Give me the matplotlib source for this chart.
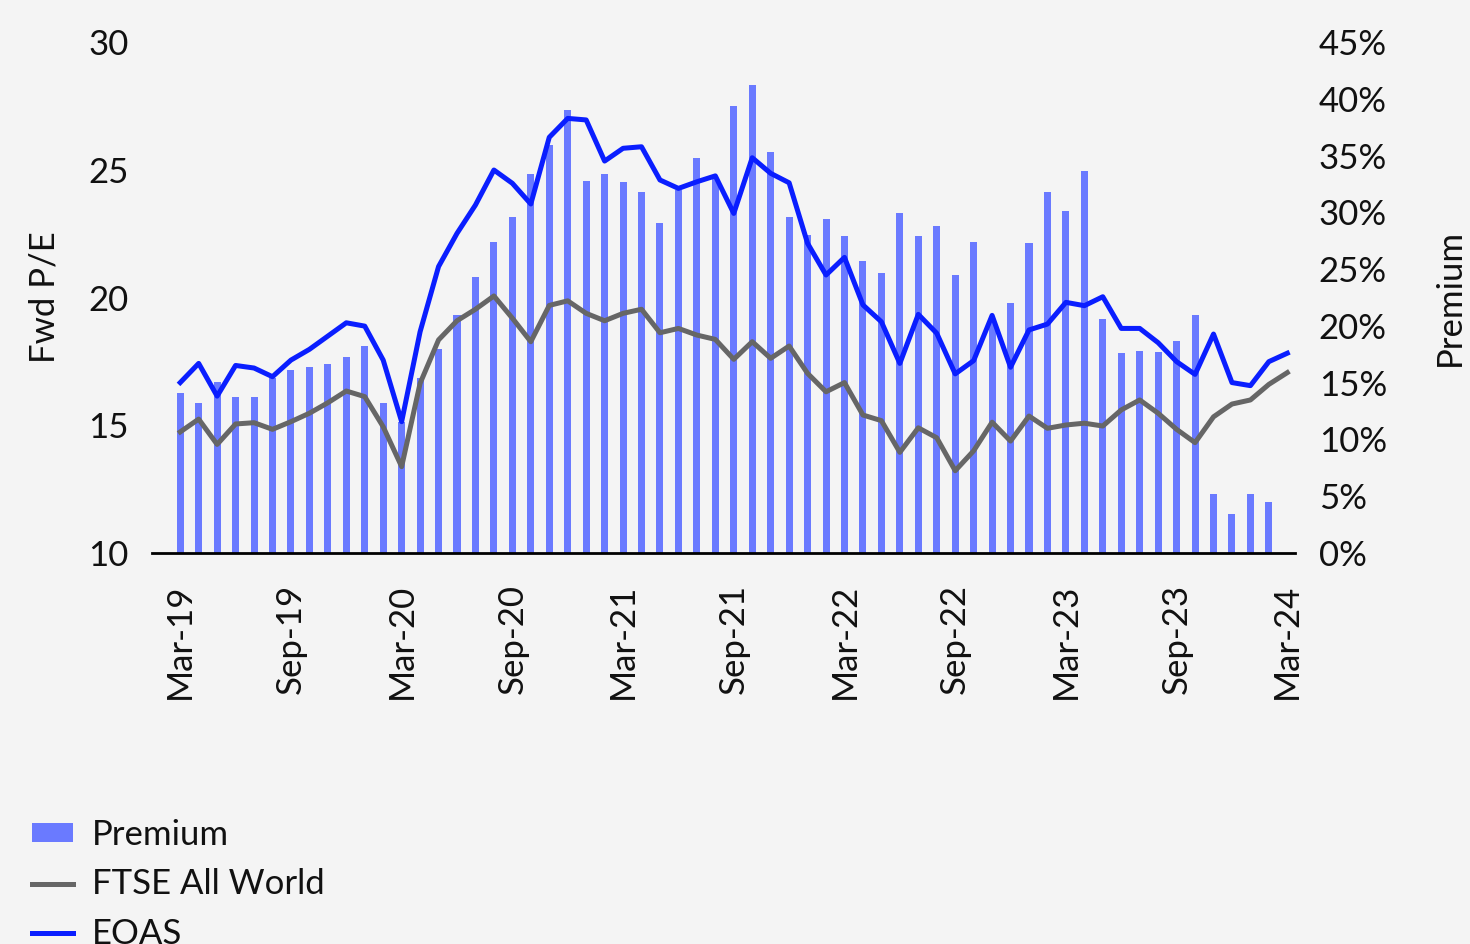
import matplotlib.pyplot as plt
import numpy as np
import pandas as pd

plt.rcParams['font.family'] = ['Lato', 'DejaVu Sans']

# Monthly data, Mar-19 .. Mar-24
months = pd.date_range('2019-03-01', periods=61, freq='MS')
month_labels = [d.strftime('%b-%y') for d in months]

# Premium (%) - no bar for the last month
premium = [14.1, 13.2, 15.1, 13.7, 13.7, 15.4, 16.1, 16.4, 16.6, 17.3,
           18.2, 13.2, 11.5, 15.4, 18.0, 21.0, 24.3, 27.4, 29.6, 33.4,
           35.9, 39.0, 32.8, 33.4, 32.7, 31.8, 29.1, 32.0, 34.8, 33.0,
           39.4, 41.2, 35.3, 29.6, 28.0, 29.4, 27.9, 25.7, 24.7, 29.9,
           27.9, 28.8, 24.5, 27.4, 20.5, 22.0, 27.3, 31.8, 30.1, 33.6,
           20.6, 17.6, 17.8, 17.7, 18.7, 21.0, 5.2, 3.4, 5.2, 4.5]

ftse = [14.74, 15.24, 14.25, 15.05, 15.10, 14.84, 15.14, 15.47, 15.88, 16.34,
        16.12, 14.94, 13.38, 16.64, 18.34, 19.09, 19.54, 20.06, 19.19, 18.27,
        19.69, 19.87, 19.38, 19.09, 19.38, 19.54, 18.62, 18.79, 18.53, 18.36,
        17.58, 18.27, 17.62, 18.10, 17.03, 16.31, 16.67, 15.40, 15.18, 13.94,
        14.90, 14.51, 13.22, 14.00, 15.12, 14.38, 15.36, 14.88, 15.01, 15.08,
        14.97, 15.60, 15.99, 15.47, 14.84, 14.32, 15.33, 15.83, 15.99, 16.60,
        17.06]

eoas = [16.67, 17.42, 16.14, 17.34, 17.24, 16.90, 17.55, 17.97, 18.49, 19.01,
        18.88, 17.55, 15.14, 18.66, 21.21, 22.51, 23.62, 24.99, 24.47, 23.66,
        26.27, 27.01, 26.95, 25.34, 25.84, 25.90, 24.60, 24.27, 24.53, 24.76,
        23.29, 25.47, 24.86, 24.49, 22.12, 20.88, 21.57, 19.71, 19.05, 17.42,
        19.34, 18.60, 17.01, 17.53, 19.30, 17.27, 18.73, 18.96, 19.81, 19.68,
        20.03, 18.79, 18.79, 18.23, 17.49, 16.99, 18.57, 16.67, 16.55, 17.49,
        17.82]

bg = '#f4f4f4'
bar_color = '#6a7aff'
grey = '#666666'
blue = '#0a1eff'
fs = 25

fig = plt.figure(figsize=(14.7, 9.44), dpi=100, facecolor=bg)
ax = fig.add_axes([0.1034, 0.4142, 0.7776, 0.5413])
ax.set_facecolor(bg)
ax2 = ax.twinx()

x = np.arange(len(months))

# Premium bars on the right axis
ax2.bar(x[:len(premium)], premium, width=0.38, color=bar_color, label='Premium', zorder=1)
ax2.set_ylim(0, 45)
ax2.set_yticks(np.arange(0, 46, 5))
ax2.set_yticklabels([f'{v}%' for v in range(0, 46, 5)])

# Lines on the left axis, drawn above the bars
ax.set_zorder(ax2.get_zorder() + 1)
ax.patch.set_visible(False)
ax2.patch.set_facecolor(bg)
ax.plot(x, ftse, color=grey, lw=3.6, label='FTSE All World', solid_joinstyle='round')
ax.plot(x, eoas, color=blue, lw=3.6, label='EOAS', solid_joinstyle='round')
ax.set_ylim(10, 30)
ax.set_yticks([10, 15, 20, 25, 30])
ax.set_xlim(-1.53, 60.42)

ax.set_xticks(x[::6])
ax.set_xticklabels(month_labels[::6], rotation=90)

for a in (ax, ax2):
    for s in a.spines.values():
        s.set_visible(False)
    a.tick_params(length=0, labelsize=fs, colors='#111111')
ax.spines['bottom'].set_visible(True)
ax.spines['bottom'].set_linewidth(2)
ax.spines['bottom'].set_color('black')
ax.tick_params(axis='x', pad=22)
ax.tick_params(axis='y', pad=17)
ax2.tick_params(axis='y', pad=17)

ax.set_ylabel('Fwd P/E', fontsize=fs, color='#111111', labelpad=20)
ax2.set_ylabel('Premium', fontsize=fs, color='#111111', labelpad=34, rotation=90)

# Legend under the chart
h1, l1 = ax2.get_legend_handles_labels()
h2, l2 = ax.get_legend_handles_labels()
leg = fig.legend(h1 + h2, l1 + l2, loc='upper left', bbox_to_anchor=(0.012, 0.147),
                 frameon=False, fontsize=fs, handlelength=1.2, handleheight=0.45,
                 handletextpad=0.55, labelspacing=0.5, borderaxespad=0)
for t in leg.get_texts():
    t.set_color('#111111')

fig.savefig('out.png', dpi=100, facecolor=bg)
